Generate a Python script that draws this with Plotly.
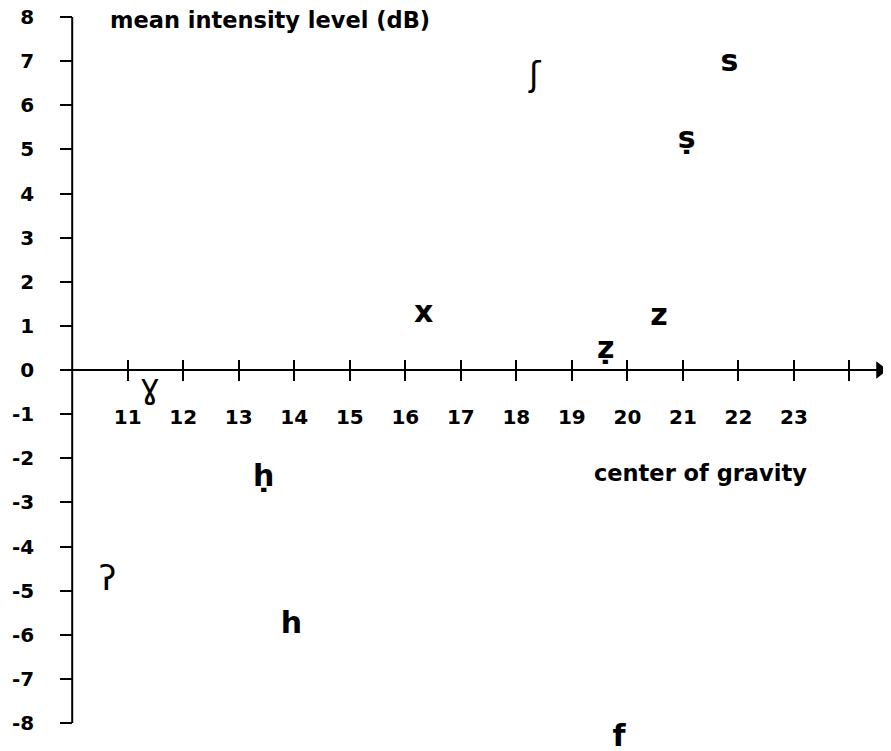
import plotly.graph_objects as go

# phonetic symbols placed by spectral centre of gravity and mean intensity
symbols = ["ɣ", "ʔ", "ḥ", "h", "x", "ʃ", "s", "ṣ", "z", "ẓ", "f"]
center_of_gravity = [11.40, 10.64, 13.45, 13.95, 16.33, 18.33, 21.84, 21.07, 20.57, 19.61, 19.85]
intensity_db = [-0.45, -4.80, -2.45, -5.80, 1.25, 6.62, 6.94, 5.20, 1.18, 0.45, -8.35]
thin_symbols = ["ɣ", "ʔ", "ʃ"]

x_ticks = list(range(11, 25))
x_tick_labels = [str(v) for v in range(11, 24)] + [""]
y_ticks = list(range(-8, 9))
y_tick_labels = [str(v) for v in y_ticks]

X_RANGE = [9.78, 24.55]
Y_AXIS_SPAN = [-8, 8]
Y_AXIS_AT = 10

# page body adds an 8px offset, so the figure is drawn a bit smaller
W, H = 883, 743
AXIS_TOP, AXIS_BOTTOM = 9, 715          # pixel rows of y=8 and y=-8 inside the figure
px_per_db = (AXIS_BOTTOM - AXIS_TOP) / (Y_AXIS_SPAN[1] - Y_AXIS_SPAN[0])
# y range covers the whole height so the low "f" is not hidden
Y_RANGE = [Y_AXIS_SPAN[0] - (H - AXIS_BOTTOM) / px_per_db,
           Y_AXIS_SPAN[1] + AXIS_TOP / px_per_db]
zero_frac = (0 - Y_RANGE[0]) / (Y_RANGE[1] - Y_RANGE[0])

FONT = "DejaVu Sans"

fig = go.Figure()

for thin in (False, True):
    pts = [(s, x, y) for s, x, y in zip(symbols, center_of_gravity, intensity_db)
           if (s in thin_symbols) == thin]
    fig.add_trace(go.Scatter(
        x=[p[1] for p in pts],
        y=[p[2] for p in pts],
        text=[p[0] for p in pts],
        mode='text',
        textposition='middle center',
        textfont=dict(family=FONT, size=34 if thin else 30, color='#000',
                      weight='normal' if thin else 'bold'),
        cliponaxis=False,
        hoverinfo='skip',
        showlegend=False
    ))

# arrow head at the end of the x axis, plus an invisible trace for the upper tick axis
fig.add_trace(go.Scatter(
    x=[X_RANGE[1]], y=[0], mode='markers',
    marker=dict(symbol='triangle-right', size=15, color='#000'),
    cliponaxis=False, hoverinfo='skip', showlegend=False
))
fig.add_trace(go.Scatter(
    x=[X_RANGE[0]], y=[0], xaxis='x2', mode='markers',
    marker=dict(opacity=0), hoverinfo='skip', showlegend=False
))

tickfont = dict(family=FONT, size=20, color='#000', weight='bold')
labelfont = dict(family=FONT, size=22.5, color='#000', weight='bold')

fig.update_layout(
    width=W, height=H,
    paper_bgcolor='#fff', plot_bgcolor='#fff',
    margin=dict(t=0, b=0, l=52, r=11),
    xaxis=dict(
        range=X_RANGE, anchor='free', position=zero_frac, automargin=False,
        showgrid=False, zeroline=False,
        showline=True, linecolor='#000', linewidth=2,
        ticks='outside', ticklen=10, tickwidth=2, tickcolor='#000',
        tickvals=x_ticks, ticktext=x_tick_labels,
        tickfont=tickfont, ticklabelstandoff=19
    ),
    xaxis2=dict(
        range=X_RANGE, overlaying='x', anchor='free', position=zero_frac, side='bottom',
        automargin=False,
        showgrid=False, zeroline=False, showline=False,
        ticks='inside', ticklen=10, tickwidth=2, tickcolor='#000',
        tickvals=x_ticks, showticklabels=False
    ),
    yaxis=dict(
        range=Y_RANGE, anchor='free', automargin=False,
        position=(Y_AXIS_AT - X_RANGE[0]) / (X_RANGE[1] - X_RANGE[0]),
        showgrid=False, zeroline=False, showline=False,
        ticks='outside', ticklen=12, tickwidth=2, tickcolor='#000',
        tickvals=y_ticks, ticktext=y_tick_labels,
        tickfont=tickfont, ticklabelstandoff=22, ticklabeloverflow='allow'
    ),
    shapes=[
        # vertical axis line only between -8 and 8 dB
        dict(type='line', xref='x', yref='y', x0=Y_AXIS_AT, x1=Y_AXIS_AT,
             y0=Y_AXIS_SPAN[0], y1=Y_AXIS_SPAN[1], line=dict(color='#000', width=2)),
    ],
    annotations=[
        dict(text='mean intensity level (dB)', xref='paper', yref='paper',
             x=0.0585, y=0.984, xanchor='left', yanchor='middle', showarrow=False,
             font=labelfont),
        dict(text='center of gravity', xref='paper', yref='paper',
             x=0.649, y=0.374, xanchor='left', yanchor='middle', showarrow=False,
             font=labelfont),
    ]
)

fig.write_html("out.html")
